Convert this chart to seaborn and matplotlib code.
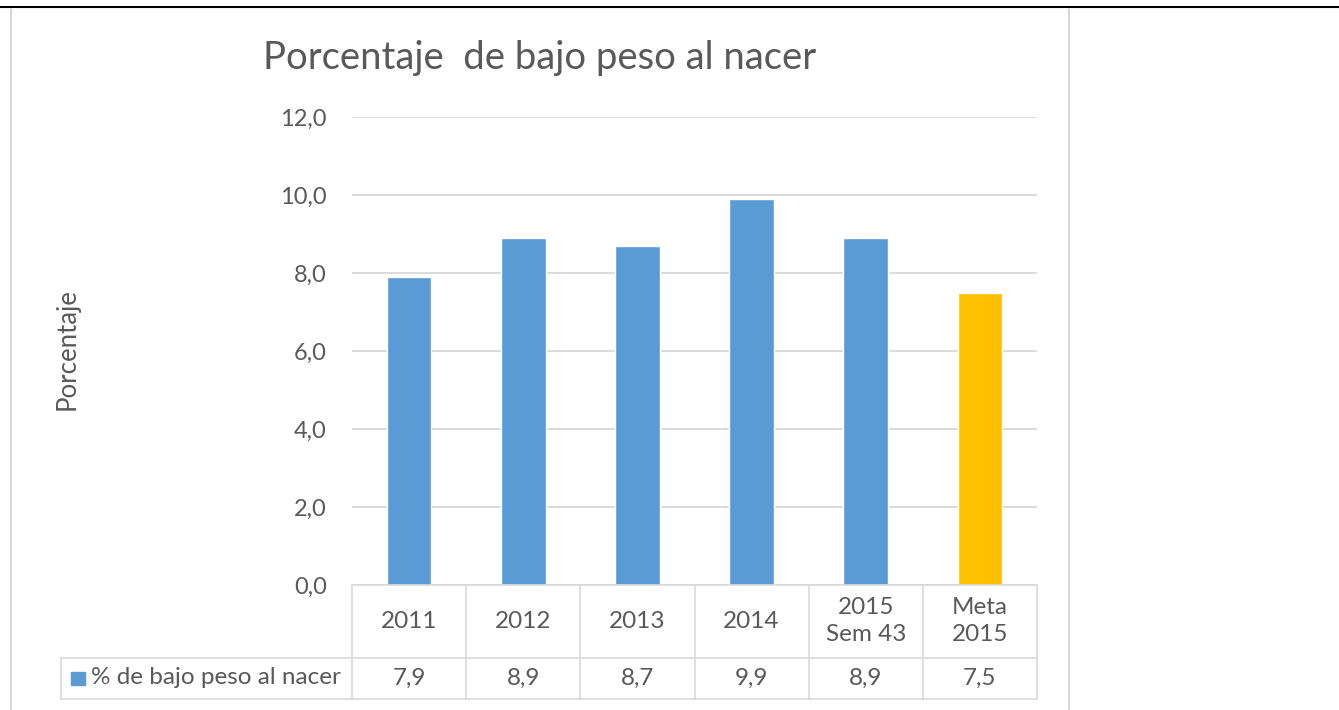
import matplotlib
matplotlib.use("Agg")
import matplotlib.pyplot as plt
import seaborn as sns
import pandas as pd
from matplotlib.lines import Line2D
from matplotlib.patches import Rectangle
from matplotlib.transforms import blended_transform_factory

# data
categories = ["2011", "2012", "2013", "2014", "2015\nSem 43", "Meta\n2015"]
values = [7.9, 8.9, 8.7, 9.9, 8.9, 7.5]
value_labels = ["7,9", "8,9", "8,7", "9,9", "8,9", "7,5"]
bar_colors = ["#5B9BD5", "#5B9BD5", "#5B9BD5", "#5B9BD5", "#5B9BD5", "#FFC000"]
series_name = "% de bajo peso al nacer"
title = "Porcentaje  de bajo peso al nacer"
ylabel = "Porcentaje"
yticks = [0, 2, 4, 6, 8, 10, 12]

W, H = 1339, 710
text_color = "#595959"
grid_color = "#d9d9d9"

sns.set_style("white")
plt.rcParams["font.family"] = ["Lato", "DejaVu Sans"]


def fx(px):
    return px / W


def fy(py):
    return 1 - py / H


fig = plt.figure(figsize=(W / 100, H / 100), dpi=100)
ax = fig.add_axes([fx(352), fy(585), fx(1037) - fx(352), fy(117) - fy(585)])

df = pd.DataFrame({"cat": categories, "val": values})
sns.barplot(data=df, x="cat", y="val", hue="cat", palette=bar_colors,
            legend=False, width=0.39, saturation=1, ax=ax)

ax.set_xlim(-0.5, len(categories) - 0.5)
ax.set_ylim(0, 12)
ax.set_yticks(yticks)
ax.set_yticklabels([f"{t:.1f}".replace(".", ",") for t in yticks])
ax.tick_params(axis="y", length=0, pad=18, labelsize=17, labelcolor=text_color)
ax.set_xticks([])
ax.set_xlabel("")
ax.set_ylabel("")
ax.yaxis.grid(True, color=grid_color, lw=1.3)
ax.set_axisbelow(True)
sns.despine(ax=ax, left=True, bottom=True)

# title and axis label
fig.text(fx(540), fy(58), title, size=27.5, color=text_color, ha="center", va="center")
fig.text(fx(67), fy(349), ylabel, size=18.5, color=text_color, rotation=90,
         ha="center", va="center")

# data table below the axis
tr = blended_transform_factory(ax.transData, fig.transFigure)
n = len(categories)
lw_t = 1.2
for y in (585, 658, 699):
    fig.add_artist(Line2D([-0.5, n - 0.5], [fy(y), fy(y)], transform=tr,
                          color=grid_color, lw=lw_t))
for i in range(n + 1):
    fig.add_artist(Line2D([i - 0.5, i - 0.5], [fy(585), fy(699)], transform=tr,
                          color=grid_color, lw=lw_t))
fig.add_artist(Line2D([fx(61), fx(352)], [fy(658), fy(658)], color=grid_color, lw=lw_t))
fig.add_artist(Line2D([fx(61), fx(352)], [fy(699), fy(699)], color=grid_color, lw=lw_t))
fig.add_artist(Line2D([fx(61), fx(61)], [fy(658), fy(699)], color=grid_color, lw=lw_t))

for i, (cat, lab) in enumerate(zip(categories, value_labels)):
    fig.text(i, fy(621), cat, transform=tr, size=17.5, color=text_color,
             ha="center", va="center", linespacing=1.3)
    fig.text(i, fy(678), lab, transform=tr, size=17.5, color=text_color,
             ha="center", va="center")

fig.add_artist(Rectangle((fx(71), fy(685)), fx(14), 13 / H, color=bar_colors[0]))
fig.text(fx(91), fy(678), series_name, size=17.5, color=text_color, ha="left", va="center")

# page frame
fig.add_artist(Line2D([0, 1], [fy(7), fy(7)], color="black", lw=1.5))
fig.add_artist(Line2D([fx(11), fx(11)], [fy(9), 0], color=grid_color, lw=1.5))
fig.add_artist(Line2D([fx(1069), fx(1069)], [fy(9), 0], color=grid_color, lw=1.5))

fig.savefig("out.png", dpi=100)
